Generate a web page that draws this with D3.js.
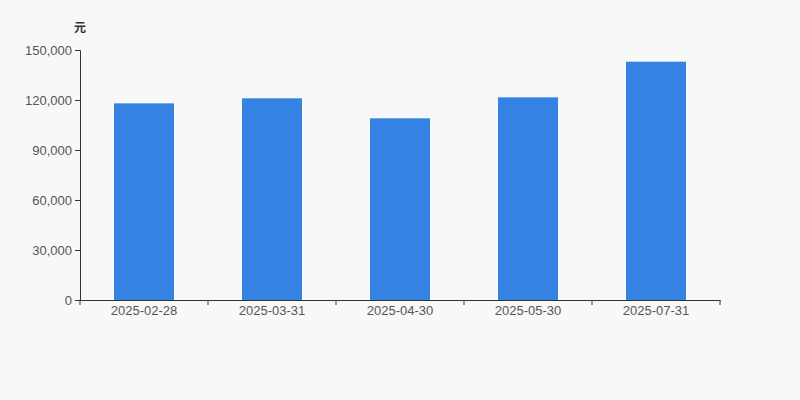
<!DOCTYPE html>
<html>
<head>
<meta charset="utf-8">
<script src="https://cdn.jsdelivr.net/npm/d3@7"></script>
<style>
  body { margin: 0; background: #f8f8f8; }
  svg { display: block; font-family: "Liberation Sans", Arial, sans-serif; }
</style>
</head>
<body>
<div id="chart"></div>
<script>
// Data
const dates = ["2025-02-28", "2025-03-31", "2025-04-30", "2025-05-30", "2025-07-31"];
const values = [118000, 121000, 109000, 121600, 143000];
const yTicks = [0, 30000, 60000, 90000, 120000, 150000];
const unitLabel = "元";

const margin = { top: 50, right: 80, bottom: 100, left: 80 };
const width = 800 - margin.left - margin.right;
const height = 400 - margin.top - margin.bottom;

const svg = d3.select("#chart")
    .append("svg")
    .attr("width", 800)
    .attr("height", 400)
    .style("background", "#f8f8f8");

const g = svg.append("g")
    .attr("transform", `translate(${margin.left},${margin.top})`);

// Scales
const x = d3.scaleBand()
    .domain(dates)
    .range([0, width]);

const y = d3.scaleLinear()
    .domain([0, 150000])
    .range([height, 0]);

// Bars
const barWidth = 60;
g.selectAll("rect.bar")
    .data(values)
    .enter()
    .append("rect")
    .attr("class", "bar")
    .attr("x", (d, i) => x(dates[i]) + (x.bandwidth() - barWidth) / 2)
    .attr("y", d => y(d))
    .attr("width", barWidth)
    .attr("height", d => height - y(d))
    .attr("fill", "#3482e2");

// Y axis
const yAxis = g.append("g")
    .call(d3.axisLeft(y).tickValues(yTicks).tickSize(5).tickPadding(3).tickFormat(d3.format(",")));
yAxis.select(".domain").attr("stroke", "#333");
yAxis.selectAll(".tick line").attr("stroke", "#333");
yAxis.selectAll(".tick text")
    .attr("fill", "#555")
    .style("font-size", "13px");

// X axis with ticks on the band boundaries
const xAxis = g.append("g")
    .attr("transform", `translate(0,${height})`)
    .call(d3.axisBottom(x).tickSize(0).tickPadding(6));
xAxis.select(".domain").attr("stroke", "#333");
xAxis.selectAll(".tick text")
    .attr("fill", "#555")
    .style("font-size", "13px");

const boundaries = dates.map(d => x(d)).concat([width]);
xAxis.selectAll("line.boundary")
    .data(boundaries)
    .enter()
    .append("line")
    .attr("class", "boundary")
    .attr("x1", d => d)
    .attr("x2", d => d)
    .attr("y1", 0)
    .attr("y2", 5)
    .attr("stroke", "#333");

// Unit label
svg.append("text")
    .attr("x", 80)
    .attr("y", 32)
    .attr("text-anchor", "middle")
    .attr("fill", "#333")
    .style("font-size", "12px")
    .style("font-weight", "bold")
    .style("font-family", "'Noto Sans CJK SC', sans-serif")
    .text(unitLabel);
</script>
</body>
</html>
